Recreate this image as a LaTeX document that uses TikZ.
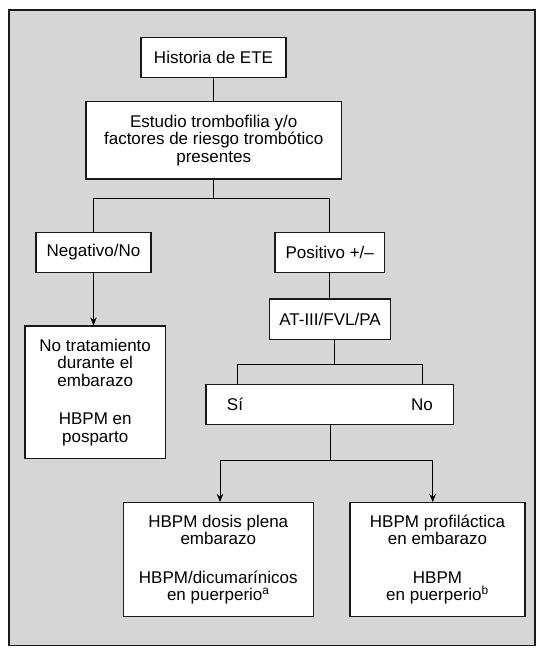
\documentclass[tikz,border=0pt]{standalone}
\usepackage{fontspec}
\setmainfont{Liberation Sans}
\usetikzlibrary{arrows.meta}
\definecolor{bgray}{RGB}{214,214,214}
\definecolor{lineg}{RGB}{25,25,25}
\begin{document}
\begin{tikzpicture}[x=1pt,y=-1pt,
  box/.style={draw=lineg, line width=1.3pt, fill=white, inner sep=0pt, align=center,
    font=\fontsize{17}{17.5}\selectfont},
  lbl/.style={inner sep=0pt, font=\fontsize{17}{17.5}\selectfont},
  conn/.style={draw=black, line width=0.9pt},
  arr/.style={conn, -{Stealth[length=8pt,width=6.5pt]}},
  sup/.style={inner sep=0pt, font=\fontsize{11}{11}\selectfont}]
\useasboundingbox (0,0) rectangle (543,652);
\fill[white] (0,0) rectangle (543,652);
\draw[fill=bgray, draw=lineg, line width=1.6pt] (8.8,9.8) rectangle (535,645.5);

\node[box, minimum width=145pt, minimum height=40.5pt] (hist) at (213.5,57.5) {Historia de ETE};
\node[box, minimum width=255.3pt, minimum height=77.3pt] (est) at (213.7,140.3)
  {Estudio trombofilia y/o\\factores de riesgo trombótico\\presentes};
\node[box, minimum width=115pt, minimum height=40pt] (neg) at (93.5,252.3) {Negativo/No};
\node[box, minimum width=109.3pt, minimum height=40.4pt] (pos) at (329.7,252.5) {Positivo +/–};
\node[box, minimum width=121.4pt, minimum height=40.3pt] (at3) at (330,319.2) {AT-III/FVL/PA};
\node[box, minimum width=247.7pt, minimum height=40pt] (sino) at (329.9,404.3) {};
\node[lbl] (si) at (235,404.3) {Sí};
\node[lbl] (no) at (422,404.3) {No};
\node[box, minimum width=140.3pt, minimum height=132.7pt] (notrat) at (95.2,392.4)
  {No tratamiento\\durante el\\embarazo\\[21pt]HBPM en\\posparto};
\node[box, minimum width=190pt, minimum height=114pt] (plena) at (218.3,559.7)
  {HBPM dosis plena\\embarazo\\[21pt]HBPM/dicumarínicos\\en puerperio\textsuperscript{a}};
\node[box, minimum width=175pt, minimum height=114pt] (prof) at (437.5,559.7)
  {HBPM profiláctica\\en embarazo\\[21pt]HBPM\\en puerperio\textsuperscript{b}};

\coordinate (j1) at (213.3,198.5);
\coordinate (j2) at (334.3,364.3);
\coordinate (sl) at (237.3,364.3);
\coordinate (sr) at (422.3,364.3);
\coordinate (j3) at (330.3,460);
\coordinate (pl) at (220,460);
\coordinate (pr) at (432.7,460);

\draw[conn] (hist.south) -- (hist.south |- est.north);
\draw[conn] (j1 |- est.south) -- (j1);
\draw[conn] (neg.north) |- (j1) -| (pos.north);
\draw[conn] (pos.south) -- (pos.south |- at3.north);
\draw[conn] (j2 |- at3.south) -- (j2);
\draw[conn] (sl |- sino.north) -- (sl) -- (sr) -- (sr |- sino.north);
\draw[conn] (j3 |- sino.south) -- (j3);
\draw[arr] (j3) -- (pl) -- (pl |- plena.north);
\draw[arr] (j3) -- (pr) -- (pr |- prof.north);
\draw[arr] (neg.south) -- (neg.south |- notrat.north);
\end{tikzpicture}
\end{document}
